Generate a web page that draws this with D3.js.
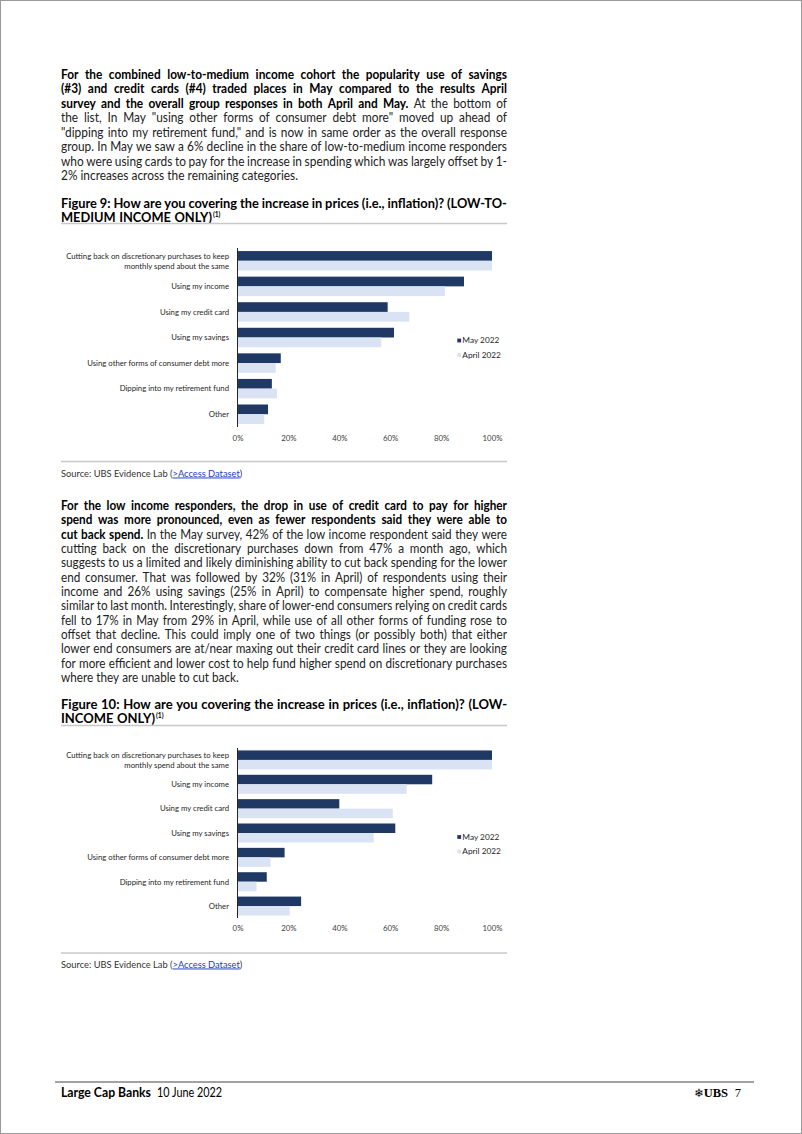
<!DOCTYPE html>
<html><head><meta charset="utf-8">
<script src="https://cdn.jsdelivr.net/npm/d3@7"></script>
<style>html,body{margin:0;padding:0;background:#fff;} svg{display:block;}</style>
</head><body><svg id="page" width="802" height="1134"></svg>
<script>
// ---------------- DATA ----------------
const categories = [
  "Cutting back on discretionary purchases to keep monthly spend about the same",
  "Using my income",
  "Using my credit card",
  "Using my savings",
  "Using other forms of consumer debt more",
  "Dipping into my retirement fund",
  "Other"
];
const categoryLabelLines = [
  ["Cutting back on discretionary purchases to keep", "monthly spend about the same"],
  ["Using my income"],
  ["Using my credit card"],
  ["Using my savings"],
  ["Using other forms of consumer debt more"],
  ["Dipping into my retirement fund"],
  ["Other"]
];
const seriesNames = ["May 2022", "April 2022"];
// Figure 9 (low-to-medium income), % of top response
const fig9May   = [100, 89, 59, 61.5, 17, 13.5, 12];
const fig9April = [100, 81.5, 67.5, 56.5, 15, 15.5, 10.5];
// Figure 10 (low income)
const fig10May   = [100, 76.5, 40, 62, 18.5, 11.5, 25];
const fig10April = [100, 66.5, 61, 53.5, 13, 7.5, 20.5];
const tickValues = [0, 20, 40, 60, 80, 100];

// ---------------- TEXT ----------------
const para1 = [
  {b: "For the combined low-to-medium income cohort the popularity use of savings", n: ""},
  {b: "(#3) and credit cards (#4) traded places in May compared to the results April", n: ""},
  {b: "survey and the overall group responses in both April and May.", n: "At the bottom of"},
  {b: "", n: "the list, In May \"using other forms of consumer debt more\" moved up ahead of"},
  {b: "", n: "\"dipping into my retirement fund,\" and is now in same order as the overall response"},
  {b: "", n: "group. In May we saw a 6% decline in the share of low-to-medium income responders"},
  {b: "", n: "who were using cards to pay for the increase in spending which was largely offset by 1-"},
  {b: "", n: "2% increases across the remaining categories.", last: true}
];
const para2 = [
  {b: "For the low income responders, the drop in use of credit card to pay for higher", n: ""},
  {b: "spend was more pronounced, even as fewer respondents said they were able to", n: ""},
  {b: "cut back spend.", n: "In the May survey, 42% of the low income respondent said they were"},
  {b: "", n: "cutting back on the discretionary purchases down from 47% a month ago, which"},
  {b: "", n: "suggests to us a limited and likely diminishing ability to cut back spending for the lower"},
  {b: "", n: "end consumer. That was followed by 32% (31% in April) of respondents using their"},
  {b: "", n: "income and 26% using savings (25% in April) to compensate higher spend, roughly"},
  {b: "", n: "similar to last month. Interestingly, share of lower-end consumers relying on credit cards"},
  {b: "", n: "fell to 17% in May from 29% in April, while use of all other forms of funding rose to"},
  {b: "", n: "offset that decline. This could imply one of two things (or possibly both) that either"},
  {b: "", n: "lower end consumers are at/near maxing out their credit card lines or they are looking"},
  {b: "", n: "for more efficient and lower cost to help fund higher spend on discretionary purchases"},
  {b: "", n: "where they are unable to cut back.", last: true}
];
const fig9Title = [
  {b: "Figure 9: How are you covering the increase in prices (i.e., inflation)? (LOW-TO-", n: ""},
  {b: "MEDIUM INCOME ONLY)", n: "", last: true, sup: "(1)"}
];
const fig10Title = [
  {b: "Figure 10: How are you covering the increase in prices (i.e., inflation)? (LOW-", n: ""},
  {b: "INCOME ONLY)", n: "", last: true, sup: "(1)"}
];

const svg = d3.select("#page");
svg.append("rect").attr("x", 0.5).attr("y", 0.5).attr("width", 801).attr("height", 1133)
  .attr("fill", "#fff").attr("stroke", "#9a9a9a").attr("stroke-width", 1);

const BODY_FONT = "Lato, 'Open Sans', sans-serif";
const CHART_FONT = "Lato, 'Open Sans', sans-serif";
const LEFT = 61, RIGHT = 507;

const meas = svg.append("text").attr("font-family", BODY_FONT).attr("x", -1000).attr("y", -1000);
function wWidth(t, weight, size) {
  meas.attr("font-weight", weight).attr("font-size", size).text(t);
  return meas.node().getComputedTextLength();
}

function lineWords(line) {
  const words = [];
  if (line.b) line.b.split(" ").forEach(w => words.push({t: w, w: 700}));
  if (line.n) line.n.split(" ").forEach(w => words.push({t: w, w: 400}));
  return words;
}

function drawParagraph(lines, y0, lh, size, color) {
  // horizontal compression so the widest line fits with modest spacing
  let worst = 0;
  lines.forEach(l => {
    const ws = lineWords(l);
    const tot = ws.reduce((s, d) => s + wWidth(d.t, d.w, size), 0) + (ws.length - 1) * size * 0.22;
    worst = Math.max(worst, tot / (RIGHT - LEFT));
  });
  const sx = worst > 1 ? 1 / worst : 1;
  const width = (RIGHT - LEFT) / sx;
  const g = svg.append("g").attr("font-family", BODY_FONT).attr("font-size", size).attr("fill", color)
    .attr("transform", `translate(${LEFT},0) scale(${sx},1)`);
  lines.forEach((l, i) => {
    const ws = lineWords(l);
    ws.forEach(d => d.len = wWidth(d.t, d.w, size));
    const sum = d3.sum(ws, d => d.len);
    const natGap = size * 0.26;
    const gap = l.last ? natGap : (width - sum) / (ws.length - 1);
    let x = 0;
    const y = y0 + i * lh;
    ws.forEach(d => {
      g.append("text").attr("x", x).attr("y", y).attr("font-weight", d.w)
        .attr("fill", d.w === 700 ? "#000" : color).text(d.t);
      x += d.len + gap;
    });
    if (l.sup) {
      g.append("text").attr("x", x - gap + 0.8).attr("y", y - size * 0.4)
        .attr("font-size", size * 0.52).attr("font-weight", 700).attr("fill", "#000").text(l.sup);
    }
  });
}

drawParagraph(para1, 78.7, 14.5, 13, "#222");
drawParagraph(fig9Title, 207.8, 14, 13, "#000");
drawParagraph(para2, 510, 14.35, 13, "#222");
drawParagraph(fig10Title, 709, 14, 13, "#000");

function hrule(y, x0, x1, color, w) {
  svg.append("line").attr("x1", x0).attr("x2", x1).attr("y1", y).attr("y2", y)
    .attr("stroke", color).attr("stroke-width", w);
}
hrule(223.5, LEFT, RIGHT, "#c8c8c8", 1.5);
hrule(461.5, LEFT, RIGHT, "#c8c8c8", 1.5);
hrule(725.5, LEFT, RIGHT, "#c8c8c8", 1.5);
hrule(953, LEFT, RIGHT, "#c8c8c8", 1.5);

function source(y) {
  const t = svg.append("text").attr("x", LEFT).attr("y", y).attr("font-family", BODY_FONT)
    .attr("font-size", 9.3).attr("fill", "#333");
  t.append("tspan").text("Source: UBS Evidence Lab (");
  t.append("tspan").attr("fill", "#1a3cc8").attr("text-decoration", "underline").text(">Access Dataset");
  t.append("tspan").text(")");
}
source(476.5);
source(967.5);

// ---------------- CHARTS ----------------
const colors = d3.scaleOrdinal().domain(seriesNames).range(["#1f3864", "#dae3f3"]);

function drawChart(cfg) {
  const x = d3.scaleLinear().domain([0, 100]).range([237.5, 492]);
  const y = d3.scaleBand().domain(categories).range([cfg.top, cfg.bottom])
    .paddingInner(cfg.pi).paddingOuter(cfg.po);
  const ys = d3.scaleBand().domain(seriesNames).range([0, y.bandwidth()]);
  const g = svg.append("g");
  const rows = categories.map((c, i) => ({c, i, vals: [cfg.may[i], cfg.april[i]]}));
  const rg = g.selectAll("g.row").data(rows).join("g").attr("class", "row")
    .attr("transform", d => `translate(0,${y(d.c)})`);
  rg.selectAll("rect").data(d => d.vals.map((v, k) => ({s: seriesNames[k], v})))
    .join("rect")
    .attr("x", x(0)).attr("y", d => ys(d.s))
    .attr("width", d => x(d.v) - x(0)).attr("height", ys.bandwidth())
    .attr("fill", d => colors(d.s));
  // category labels
  rg.each(function(d) {
    const lines = categoryLabelLines[d.i];
    const t = d3.select(this).append("text").attr("x", 229).attr("text-anchor", "end")
      .attr("font-family", CHART_FONT).attr("font-size", 7.75).attr("fill", "#262626");
    lines.forEach((ln, k) => {
      t.append("tspan").attr("x", 229)
        .attr("y", y.bandwidth() / 2 + (k - (lines.length - 1) / 2) * 10 + 2.8).text(ln);
    });
  });
  // vertical axis line
  g.append("line").attr("x1", x(0)).attr("x2", x(0)).attr("y1", cfg.top).attr("y2", cfg.bottom)
    .attr("stroke", "#262626").attr("stroke-width", 1);
  // bottom axis
  const ax = g.append("g").attr("transform", `translate(0,${cfg.tickY})`)
    .call(d3.axisBottom(x).tickValues(tickValues).tickSize(0).tickFormat(d => d + "%"));
  ax.select(".domain").remove();
  ax.selectAll("text").attr("font-family", CHART_FONT).attr("font-size", 7.8).attr("fill", "#404040")
    .attr("y", 0).attr("dy", "0.35em");
  // legend
  const lg = g.append("g").attr("font-family", CHART_FONT).attr("font-size", 8.3);
  seriesNames.forEach((s, k) => {
    const ly = cfg.legendY + k * 14.5;
    lg.append("rect").attr("x", 457.3).attr("y", ly - 1.9).attr("width", 3.8).attr("height", 3.8)
      .attr("fill", colors(s));
    lg.append("text").attr("x", 462.3).attr("y", ly).attr("dy", "0.35em").attr("fill", "#262626").text(s);
  });
}

drawChart({top: 248, bottom: 427, pi: 0.24, po: 0.12, tickY: 438.5, legendY: 340.5,
  may: fig9May, april: fig9April});
drawChart({top: 748, bottom: 918, pi: 0.22, po: 0.1, tickY: 928.5, legendY: 837,
  may: fig10May, april: fig10April});

// ---------------- FOOTER ----------------
hrule(1082, 55, 754, "#444", 1);
svg.append("text").attr("x", LEFT).attr("y", 1097).attr("font-family", BODY_FONT)
  .attr("font-size", 12.5).attr("font-weight", 700).attr("fill", "#000")
  .attr("textLength", 90).attr("lengthAdjust", "spacingAndGlyphs").text("Large Cap Banks");
svg.append("text").attr("x", 157).attr("y", 1097).attr("font-family", BODY_FONT)
  .attr("font-size", 12.5).attr("font-weight", 400).attr("fill", "#000")
  .attr("textLength", 65).attr("lengthAdjust", "spacingAndGlyphs").text("10 June 2022");
svg.append("text").attr("x", 741).attr("y", 1097).attr("text-anchor", "end")
  .attr("font-family", "'Liberation Serif', serif").attr("font-size", 12.5).attr("fill", "#000")
  .text("7");
svg.append("text").attr("x", 728).attr("y", 1097).attr("text-anchor", "end")
  .attr("font-family", "'Liberation Serif', serif").attr("font-weight", 700).attr("font-size", 12.5)
  .attr("fill", "#000").text("UBS");
svg.append("text").attr("x", 704).attr("y", 1097).attr("text-anchor", "end")
  .attr("font-family", "'DejaVu Sans', sans-serif").attr("font-size", 11.5).attr("fill", "#000")
  .text("\u2744");
meas.remove();
</script></body></html>
